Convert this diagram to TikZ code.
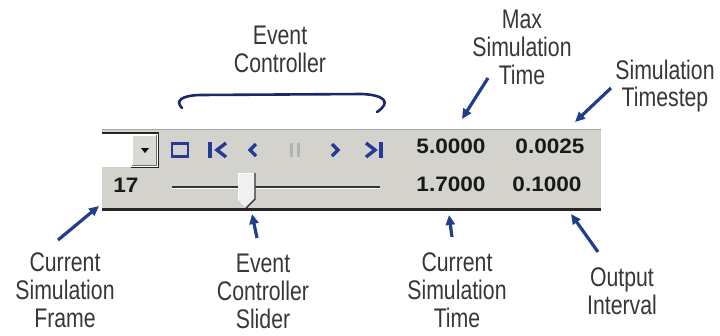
\documentclass[tikz,border=0pt]{standalone}
\usepackage{fontspec}
\setmainfont{Liberation Sans}
\newfontfamily\labelfont[FakeStretch=0.79]{Liberation Sans}
\newfontfamily\digitfont[FakeStretch=1.08]{Liberation Sans}
\usetikzlibrary{arrows.meta}

\definecolor{arrowblue}{RGB}{32,62,140}
\definecolor{bracenavy}{RGB}{26,42,105}
\definecolor{iconblue}{RGB}{36,58,150}
\definecolor{panelgray}{RGB}{212,210,205}
\definecolor{labelgray}{RGB}{55,55,55}

\tikzset{
  callout/.style={font=\labelfont\fontsize{27}{28}\selectfont, text=labelgray,
    align=center, inner sep=0pt},
  readout/.style={font=\digitfont\bfseries\fontsize{21}{22}\selectfont,
    text=black!90, inner sep=0pt},
  pointer/.style={draw=arrowblue, line width=3.2bp,
    -{Triangle[length=10bp,width=9bp]}},
  icon/.style={draw=iconblue, line width=3.4bp},
}

\begin{document}
\begin{tikzpicture}[x=1bp,y=-1bp]
\useasboundingbox (0,0) rectangle (720,335);

% ---- toolbar panel ----
\fill[panelgray] (102,129) rectangle (601,210);
\draw[gray!70, line width=1bp] (102,129.5) -- (601,129.5);
\draw[black!85, line width=2.6bp] (102,209.5) -- (601,209.5);

% combo box with drop-down button
\fill[white] (102,133) rectangle (158,167);
\draw[black!85, line width=1.4bp] (102,133) -- (158.5,133) -- (158.5,167.5) -- (131,167.5);
\fill[panelgray!85!white] (132,135) rectangle (156,165);
\draw[white, line width=1bp] (132,165) -- (132,135) -- (156,135);
\draw[black!55, line width=1bp] (132,165) -- (156,165) -- (156,135);
\fill[black] (141,148) -- (149,148) -- (145,153) -- cycle;

% playback buttons
\draw[icon, line width=2.8bp] (172,143.5) rectangle (188,156.5);
\draw[icon, line width=4.4bp] (210,142) -- (210,158);
\draw[icon, line join=miter] (226,143) -- (217,150) -- (226,157);
\draw[icon, line join=miter] (256,144) -- (250,150) -- (256,156);
\fill[gray!60] (290,143) rectangle (293,157);
\fill[gray!60] (297,143) rectangle (300,157);
\draw[icon, line join=miter] (332,144) -- (338,150) -- (332,156);
\draw[icon, line join=miter] (366,143) -- (375,150) -- (366,157);
\draw[icon, line width=4.4bp] (381,142) -- (381,158);

% frame counter and slider
\node[readout] (frame) at (126,185) {17};
\draw[black!80, line width=1.4bp] (172,187) -- (380,187);
\draw[white, line width=1bp] (172,188.8) -- (380,188.8);
\fill[white!94!black] (238,173) -- (255,173) -- (255,199) -- (246,208) -- (238,200) -- cycle;
\draw[white, line width=1bp] (238.5,200) -- (238.5,173.5) -- (255,173.5);
\draw[black!80, line width=1.4bp] (255,173) -- (255,199) -- (246,208);

% numeric readouts
\node[readout] (maxtime) at (451,146) {5.0000};
\node[readout] (timestep) at (550,146) {0.0025};
\node[readout] (curtime) at (451,184) {1.7000};
\node[readout] (interval) at (547,184) {0.1000};

% ---- callout labels ----
\node[callout] (lblEvent) at (280,49) {Event\\Controller};
\node[callout] (lblMax) at (522,47) {Max\\Simulation\\Time};
\node[callout] (lblStep) at (665,86) {Simulation\\Timestep};
\node[callout] (lblFrame) at (65,290) {Current\\Simulation\\Frame};
\node[callout] (lblSlider) at (263,291) {Event\\Controller\\Slider};
\node[callout] (lblCurTime) at (457,290) {Current\\Simulation\\Time};
\node[callout] (lblOutput) at (622,291) {Output\\Interval};

% brace spanning the playback buttons
\draw[bracenavy, line width=2.6bp, line cap=round]
  (182,108) .. controls (175,101) and (181,95.5) .. (200,95)
  -- (362,94) .. controls (384,95) and (392,102) .. (377,112);

% ---- pointers ----
\coordinate (frameTail) at (58,240);   \coordinate (frameTip) at (99,206);
\coordinate (sliderTail) at (257,238); \coordinate (sliderTip) at (252,214);
\coordinate (curTail) at (452,237);    \coordinate (curTip) at (449,215);
\coordinate (outTail) at (598,252);    \coordinate (outTip) at (571,214);
\coordinate (maxTail) at (488,78);     \coordinate (maxTip) at (462,119);
\coordinate (stepTail) at (611,88);    \coordinate (stepTip) at (575,122);

\draw[pointer] (frameTail) -- (frameTip);
\draw[pointer] (sliderTail) -- (sliderTip);
\draw[pointer] (curTail) -- (curTip);
\draw[pointer] (outTail) -- (outTip);
\draw[pointer] (maxTail) -- (maxTip);
\draw[pointer] (stepTail) -- (stepTip);
\end{tikzpicture}
\end{document}
